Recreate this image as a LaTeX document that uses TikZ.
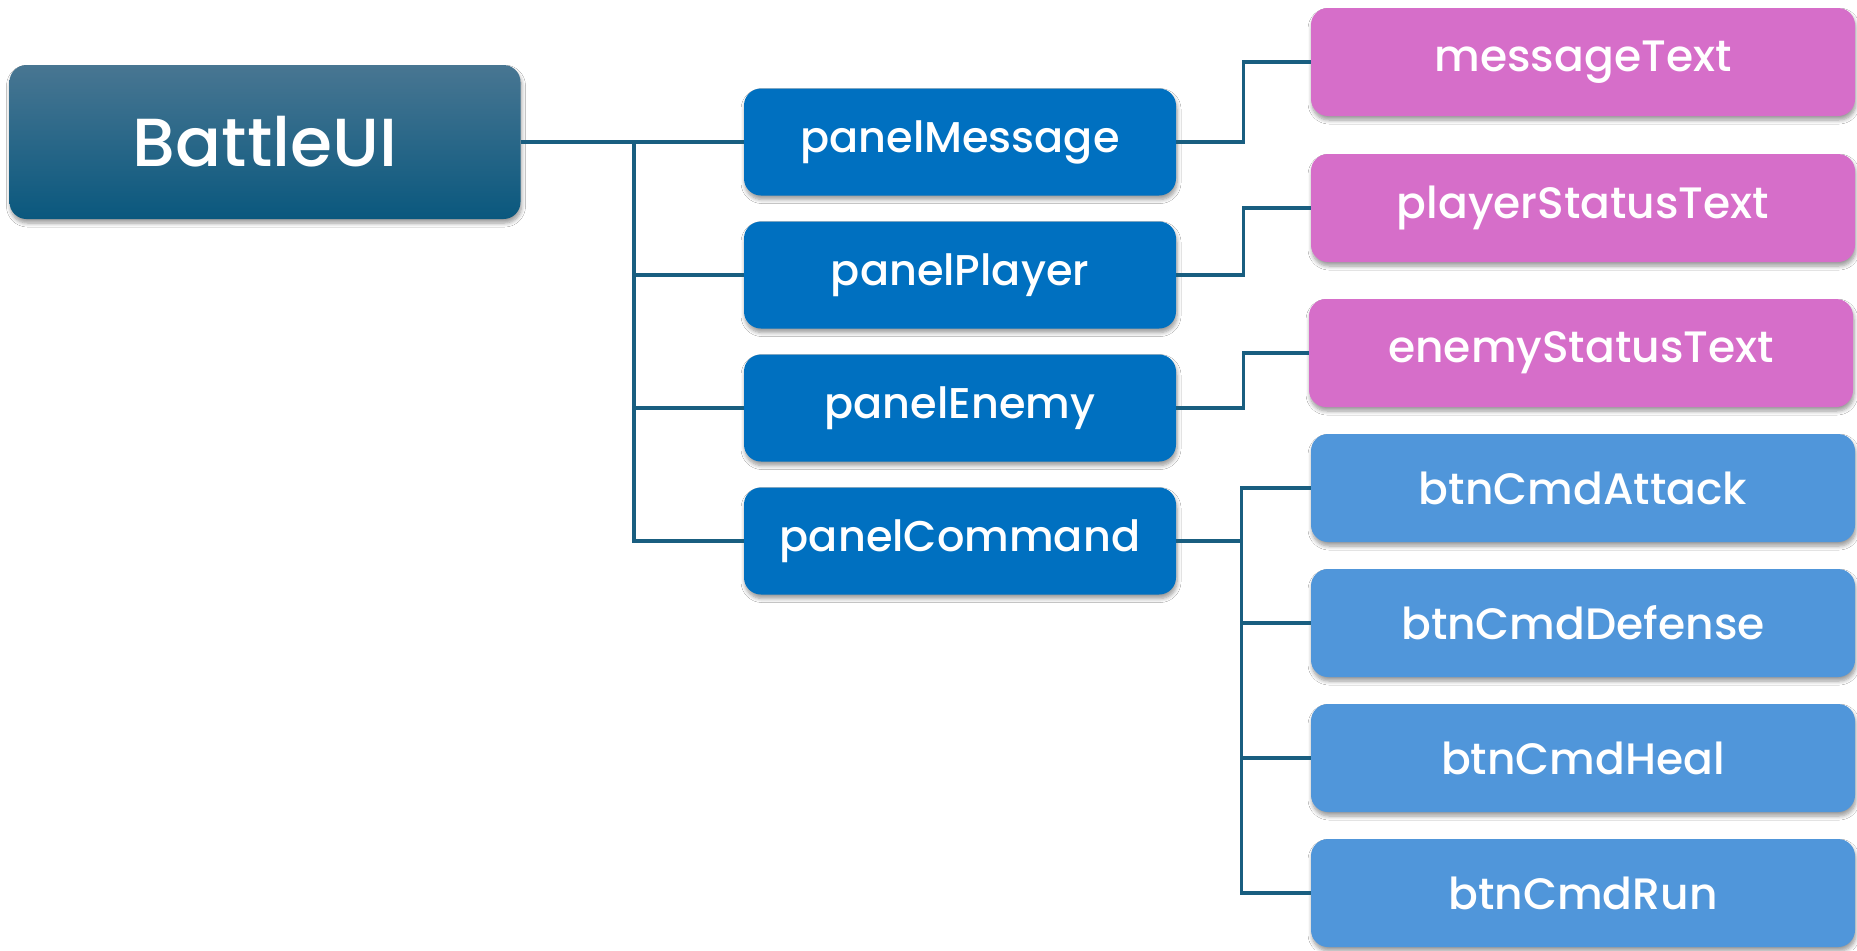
\documentclass[tikz,border=0pt]{standalone}
\usepackage{fontspec}
\setmainfont{Poppins Medium}
\usetikzlibrary{shadows.blur}
\definecolor{conncol}{RGB}{25,94,128}
\definecolor{panelcol}{RGB}{0,112,192}
\definecolor{pinkcol}{RGB}{214,110,201}
\definecolor{btncol}{RGB}{80,150,218}
\definecolor{roottop}{RGB}{72,118,146}
\definecolor{rootbot}{RGB}{10,88,126}
\tikzset{
  boxbase/.style={rectangle, rounded corners=8.5pt, text=white, inner sep=0pt,
    blur shadow={shadow blur steps=6, shadow blur radius=2pt, shadow xshift=0.5pt, shadow yshift=-2pt, shadow opacity=40}},
  rootbox/.style={boxbase, top color=roottop, bottom color=rootbot, minimum width=255.5pt, minimum height=77pt, font=\fontsize{34}{40}\selectfont},
  panelbox/.style={boxbase, fill=panelcol, minimum width=216pt, minimum height=53.5pt, font=\fontsize{21.5}{25}\selectfont},
  pinkbox/.style={boxbase, fill=pinkcol, minimum width=272pt, minimum height=54pt, font=\fontsize{22}{26}\selectfont},
  btnbox/.style={boxbase, fill=btncol, minimum width=272pt, minimum height=54pt, font=\fontsize{22}{26}\selectfont},
  conn/.style={draw=conncol, line width=1.8pt}
}
\begin{document}
\begin{tikzpicture}[x=0.5pt,y=-0.5pt]
\useasboundingbox[fill=white] (0,0) rectangle (1857,950);
\node[rootbox] (root) at (265,142) {BattleUI};
\node[panelbox] (pm) at (960,142) {panelMessage};
\node[panelbox] (pp) at (960,275) {panelPlayer};
\node[panelbox] (pe) at (960,408) {panelEnemy};
\node[panelbox] (pc) at (960,541) {panelCommand};
\node[pinkbox] (mt) at (1583,62) {messageText};
\node[pinkbox] (ps) at (1583,208) {playerStatusText};
\node[pinkbox] (es) at (1581,353) {enemyStatusText};
\node[btnbox] (ba) at (1583,488) {btnCmdAttack};
\node[btnbox] (bd) at (1583,623) {btnCmdDefense};
\node[btnbox] (bh) at (1583,758) {btnCmdHeal};
\node[btnbox] (br) at (1583,893) {btnCmdRun};
\coordinate (tr) at (634,142);
\draw[conn] (root.east) -- (tr);
\foreach \n in {pm,pp,pe,pc} \draw[conn] (tr) |- (\n.west);
\draw[conn] (pm.east) -- ++(67,0) |- (mt.west);
\draw[conn] (pp.east) -- ++(67,0) |- (ps.west);
\draw[conn] (pe.east) -- ++(67,0) |- (es.west);
\draw[conn] (pc.east) -- ++(65,0) coordinate (cj);
\foreach \n in {ba,bd,bh,br} \draw[conn] (cj) |- (\n.west);
\end{tikzpicture}
\end{document}
